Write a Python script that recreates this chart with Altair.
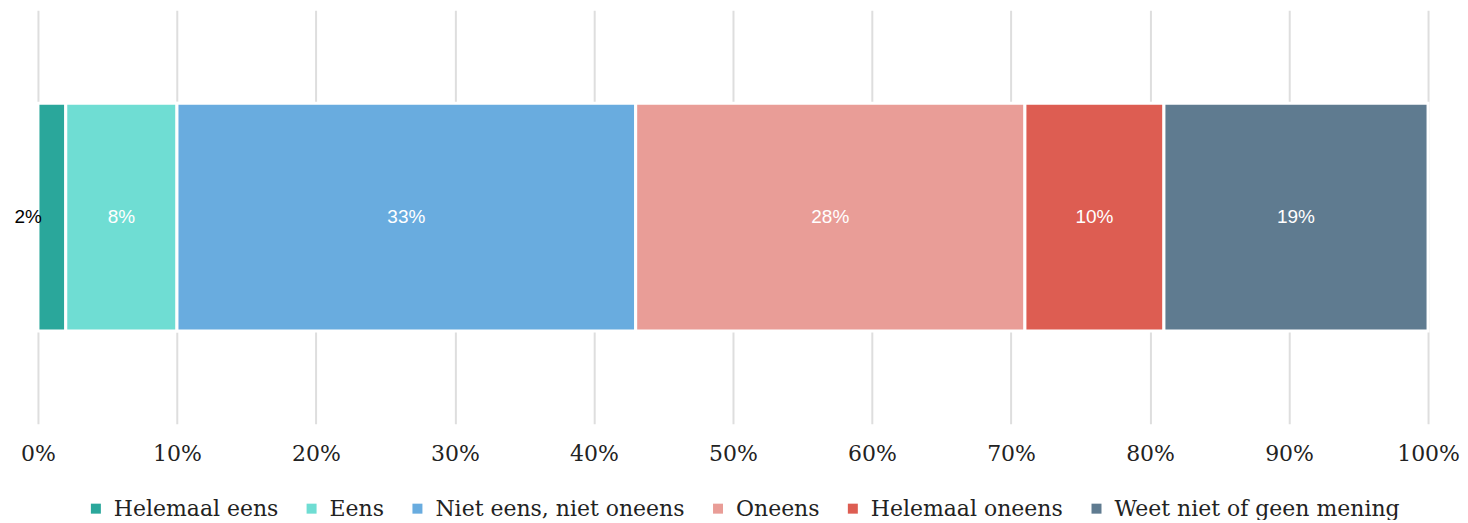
import altair as alt
import pandas as pd

categories = ["Helemaal eens", "Eens", "Niet eens, niet oneens", "Oneens",
              "Helemaal oneens", "Weet niet of geen mening"]
values = [2, 8, 33, 28, 10, 19]
colors = ["#2aa79b", "#6fddd3", "#69acdf", "#e99d97", "#dd5d52", "#5f7b90"]
tick_values = [0, 10, 20, 30, 40, 50, 60, 70, 80, 90, 100]

df = pd.DataFrame({"cat": categories, "value": values, "order": list(range(len(values)))})

base = alt.Chart(df).transform_stack(
    stack="value", as_=["x0", "x1"], groupby=[], sort=[alt.SortField("order")]
).transform_calculate(
    mid="(datum.x0 + datum.x1) / 2",
    label="datum.value + '%'"
)

xscale = alt.Scale(domain=[0, 100], nice=False, zero=True)
xaxis = alt.Axis(
    values=tick_values, labelExpr="datum.value + '%'", title=None,
    grid=True, gridColor="#dedede", gridWidth=2, domain=False, ticks=False,
    labelFont="DejaVu Serif", labelFontSize=22, labelColor="#222222",
    labelPadding=20, labelFlush=False, labelOverlap=False
)

bars = base.mark_bar(size=228, stroke="white", strokeWidth=3).encode(
    x=alt.X("x0:Q", scale=xscale, axis=xaxis),
    x2="x1:Q",
    color=alt.Color("cat:N", scale=alt.Scale(domain=categories, range=colors),
                    legend=alt.Legend(
                        orient="none", legendX=47, legendY=488,
                        title=None, symbolType="square",
                        symbolSize=100, symbolStrokeWidth=0,
                        labelFont="DejaVu Serif", labelFontSize=22,
                        labelColor="#222222", columnPadding=22, labelOffset=7,
                        labelLimit=0, direction="horizontal"
                    )),
    order=alt.Order("order:Q")
)

labels_in = base.transform_filter("datum.value >= 5").mark_text(
    color="white", font="Liberation Sans", fontSize=19
).encode(x=alt.X("mid:Q", scale=xscale), text="label:N")

labels_out = base.transform_filter("datum.value < 5").mark_text(
    color="black", font="Liberation Sans", fontSize=19, align="right", dx=4
).encode(x=alt.X("x0:Q", scale=xscale), text="label:N")

chart = alt.layer(bars, labels_in, labels_out).properties(
    width=1392, height=414,
    padding={"left": 6, "top": 2, "right": 0, "bottom": 0}
).configure_view(stroke=None)

chart.save("out.html", embed_options={"renderer": "svg", "actions": False})
